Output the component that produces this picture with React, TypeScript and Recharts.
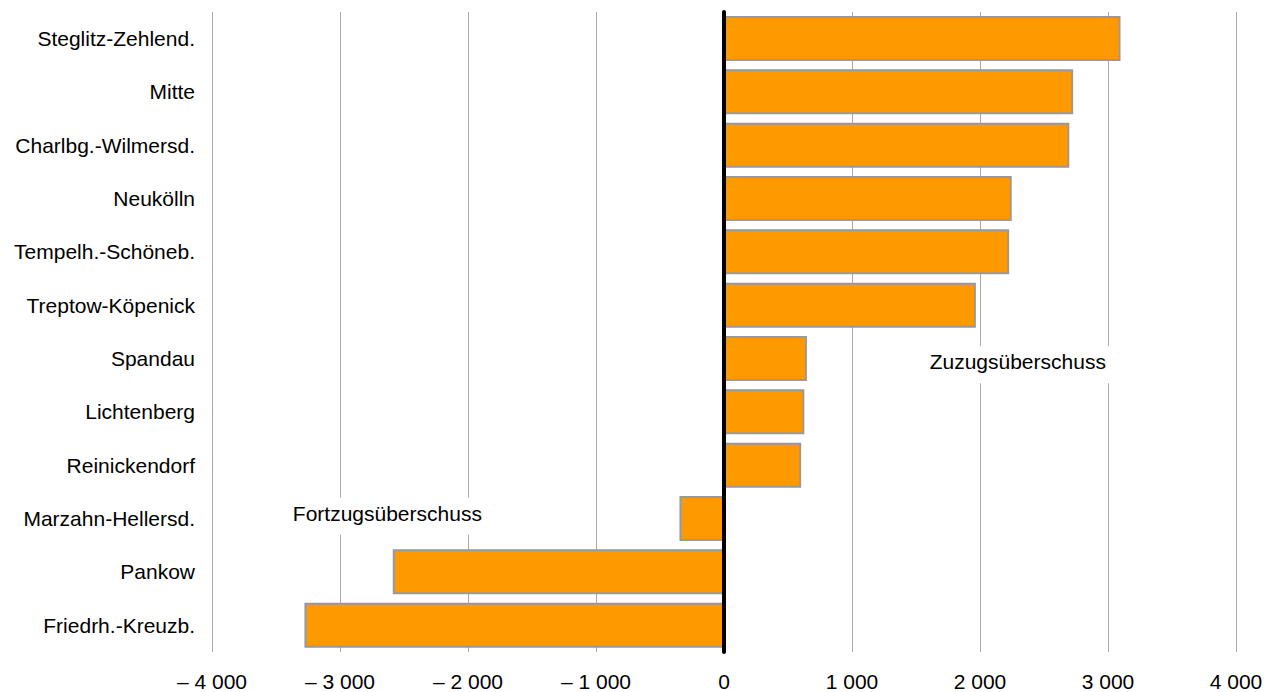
import React from 'react';
import { BarChart, Bar, XAxis, YAxis, CartesianGrid, ReferenceLine, ReferenceDot } from 'recharts';

const districts = [
  'Steglitz-Zehlend.',
  'Mitte',
  'Charlbg.-Wilmersd.',
  'Neukölln',
  'Tempelh.-Schöneb.',
  'Treptow-Köpenick',
  'Spandau',
  'Lichtenberg',
  'Reinickendorf',
  'Marzahn-Hellersd.',
  'Pankow',
  'Friedrh.-Kreuzb.',
];

const saldo = [3090, 2720, 2690, 2240, 2220, 1960, 640, 620, 595, -340, -2580, -3270];

const xTicks = [-4000, -3000, -2000, -1000, 0, 1000, 2000, 3000, 4000];

const annotations = [
  { text: 'Zuzugsüberschuss', x: 2295, district: 'Spandau', dy: 10.6, boxWidth: 190 },
  { text: 'Fortzugsüberschuss', x: -2630, district: 'Marzahn-Hellersd.', dy: 2, boxWidth: 202 },
];

const data = districts.map((name, i) => ({ name, value: saldo[i] }));

const FONT = '"Liberation Sans", Arial, sans-serif';

const formatTick = (v: number) => {
  const s = Math.abs(v).toString().replace(/\B(?=(\d{3})+(?!\d))/g, ' ');
  return v < 0 ? `– ${s}` : s;
};

const AnnotationShape = (props: any) => {
  const { cx, cy, text, dy, boxWidth } = props;
  const baseline = cy + dy;
  return (
    <g>
      <rect x={cx - boxWidth / 2} y={baseline - 23} width={boxWidth} height={37} fill="#ffffff" />
      <text x={cx} y={baseline} textAnchor="middle" fontFamily={FONT} fontSize={21} fill="#000000">
        {text}
      </text>
    </g>
  );
};

const App: React.FC = () => {
  return (
    <div style={{ position: 'absolute', left: 0, top: 0, background: '#ffffff' }}>
      <BarChart
        width={1264}
        height={692}
        data={data}
        layout="vertical"
        margin={{ top: 12, right: 28, bottom: 0, left: 0 }}
      >
        <CartesianGrid horizontal={false} stroke="#aaaaaa" strokeWidth={1} shapeRendering="crispEdges" />
        <XAxis
          type="number"
          domain={[-4000, 4000]}
          ticks={xTicks}
          tickFormatter={formatTick}
          axisLine={false}
          tickLine={false}
          tickSize={0}
          tickMargin={22}
          height={40}
          interval={0}
          tick={{ fontFamily: FONT, fontSize: 21, fill: '#000000' }}
        />
        <YAxis
          type="category"
          dataKey="name"
          width={212}
          axisLine={false}
          tickLine={false}
          tickSize={0}
          tickMargin={17}
          interval={0}
          tick={{ fontFamily: FONT, fontSize: 21, fill: '#000000' }}
        />
        <Bar dataKey="value" fill="#ff9900" stroke="#999999" strokeWidth={2} barSize={43} isAnimationActive={false} />
        <ReferenceLine x={0} stroke="#000000" strokeWidth={4} strokeLinecap="round" />
        {annotations.map((a) => (
          <ReferenceDot
            key={a.text}
            x={a.x}
            y={a.district}
            r={0}
            shape={(p: any) => <AnnotationShape {...p} text={a.text} dy={a.dy} boxWidth={a.boxWidth} />}
          />
        ))}
      </BarChart>
    </div>
  );
};

export default App;
